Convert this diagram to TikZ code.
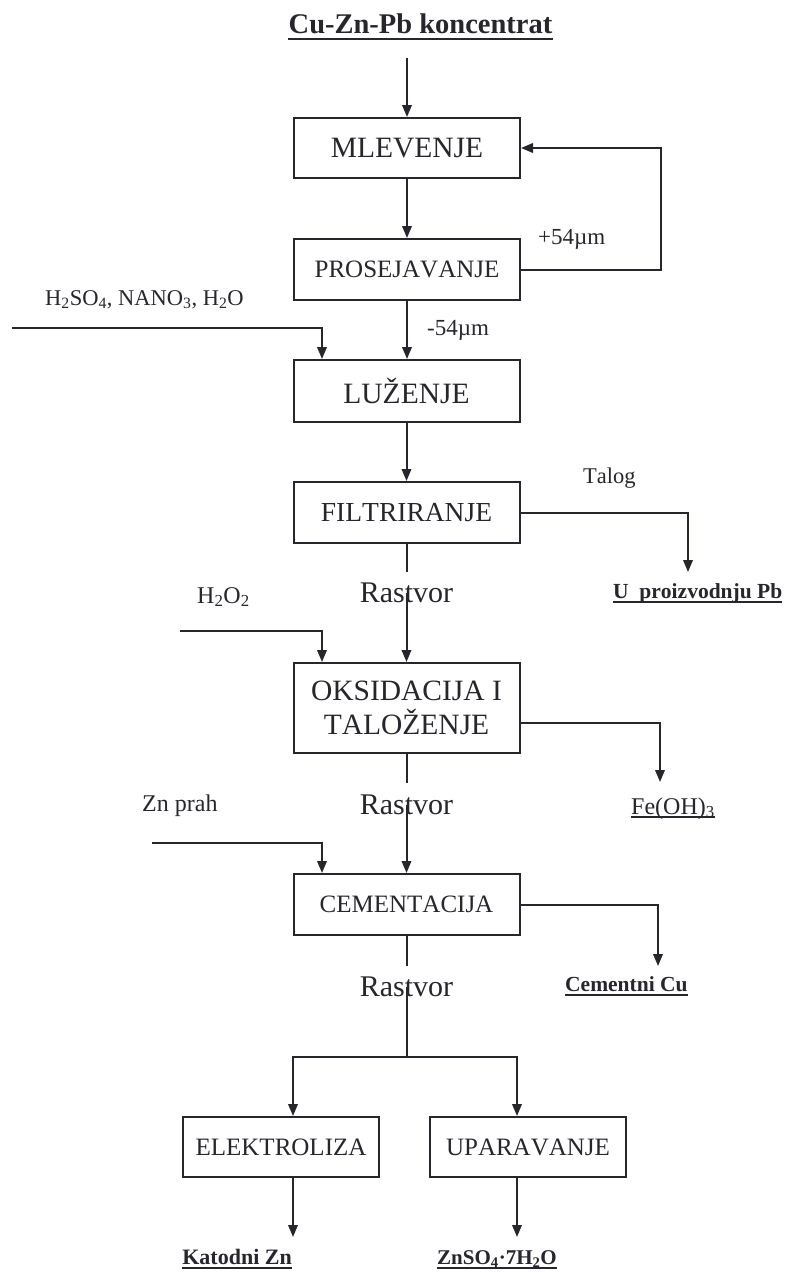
\documentclass[tikz,border=0pt]{standalone}
\usepackage{fontspec}
\setmainfont{Liberation Serif}[Kerning=Off]
\usetikzlibrary{arrows.meta}
\definecolor{ink}{RGB}{38,38,44}
\newcommand\fz[1]{\fontsize{#1}{#1}\selectfont}
\begin{document}
\begin{tikzpicture}[x=1pt,y=-1pt,
  every node/.style={text=ink, inner sep=0pt},
  procbox/.style={draw=ink, line width=2pt, align=center, fill=white},
  flow/.style={draw=ink, line width=2pt},
  arr/.style={flow, -{Triangle[length=12pt,width=9.5pt]}},
  uline/.style={draw=ink, line width=1.6pt},
  thinuline/.style={draw=ink, line width=1.2pt}
]
\useasboundingbox (0,0) rectangle (794,1272);
\fill[white] (0,0) rectangle (794,1272);

% process boxes
\node[procbox, minimum width=226pt, minimum height=60pt, font=\fz{29.5}] (mlev) at (407,148) {MLEVENJE};
\node[procbox, minimum width=226pt, minimum height=61pt, font=\fz{25}] (pros) at (407,269.5) {PROSEJAVANJE};
\node[procbox, minimum width=226pt, minimum height=62pt, font=\fz{29.5}] (luz) at (406.5,391) {LUŽENJE};
\node[procbox, minimum width=226pt, minimum height=61pt, font=\fz{27.5}] (filt) at (406.5,512.5) {FILTRIRANJE};
\node[procbox, minimum width=226pt, minimum height=90pt, font=\fontsize{29.5}{34}\selectfont] (oks) at (406.5,708) {OKSIDACIJA I\\TALOŽENJE};
\node[procbox, minimum width=226pt, minimum height=61pt, font=\fz{25}] (cem) at (406.5,904.5) {CEMENTACIJA};
\node[procbox, minimum width=196pt, minimum height=60pt, font=\fz{25}] (elek) at (281,1147) {ELEKTROLIZA};
\node[procbox, minimum width=196pt, minimum height=60pt, font=\fz{25}] (upar) at (528,1147) {UPARAVANJE};

% title
\node[font=\bfseries\fz{28.5}, anchor=base] (title) at (420.5,33) {Cu-Zn-Pb koncentrat};
\draw[uline] ([yshift=-6pt]title.base west) -- ([yshift=-6pt]title.base east);
\coordinate (c0) at (407,58);
\draw[arr] (c0) -- (mlev.north);

% grinding / screening loop
\draw[arr] (mlev.south) -- (pros.north);
\draw[arr] (pros.east) -- ++(140,0) |- (mlev.east);
\node[font=\fz{23}, anchor=base west] (plus) at (538,244) {+54µm};
\draw[arr] (pros.south) -- (pros.south |- luz.north);
\node[font=\fz{23}, anchor=base west] (minus) at (427,335) {-54µm};

% leaching reagents
\node[font=\fz{22.5}, anchor=base west] (reag) at (45,305) {H\textsubscript{2}SO\textsubscript{4}, NANO\textsubscript{3}, H\textsubscript{2}O};
\coordinate (r1) at (12,328);
\draw[arr] (r1) -| ([xshift=-84.5pt]luz.north);

\draw[arr] (luz.south) -- (filt.north);

% filtration residue
\node[font=\fz{22.5}, anchor=base west] (talog) at (583,483) {Talog};
\coordinate (pbtip) at (688,572);
\draw[arr] (filt.east) -| (pbtip);
\node[font=\bfseries\fz{21.5}, anchor=base west] (pb) at (613,598) {U\ \ proizvodnju Pb};
\draw[uline] ([yshift=-4pt]pb.base west) -- ([yshift=-4pt]pb.base east);

% solution 1
\node[font=\fz{30}] (ras1) at (406.5,593) {Rastvor};
\draw[flow] (filt.south) -- ([yshift=11pt]ras1.north);
\draw[arr] (ras1.center) -- (oks.north);
\node[font=\fz{24}, anchor=base west] (h2o2) at (197,603) {H\textsubscript{2}O\textsubscript{2}};
\coordinate (r2) at (180,631);
\draw[arr] (r2) -| ([xshift=-84.5pt]oks.north);

% Fe(OH)3
\coordinate (fetip) at (660,782);
\draw[arr] ([yshift=-15pt]oks.east) -| (fetip);
\node[font=\fz{24}, anchor=base west] (fe) at (631,814) {Fe(OH)\textsubscript{3}};
\draw[thinuline] ([yshift=-3pt]fe.base west) -- ([yshift=-3pt]fe.base east);

% solution 2
\node[font=\fz{30}] (ras2) at (406.5,805) {Rastvor};
\draw[flow] (oks.south) -- ([yshift=12pt]ras2.north);
\draw[arr] (ras2.center) -- (cem.north);
\node[font=\fz{24}, anchor=base west] (znp) at (142,811) {Zn prah};
\coordinate (r3) at (152,843);
\draw[arr] (r3) -| ([xshift=-84.5pt]cem.north);

% cement copper
\coordinate (cutip) at (658,966);
\draw[arr] (cem.east) -| (cutip);
\node[font=\bfseries\fz{21.5}, anchor=base west] (cu) at (565,991) {Cementni Cu};
\draw[uline] ([yshift=-4pt]cu.base west) -- ([yshift=-4pt]cu.base east);

% solution 3 and split
\node[font=\fz{30}] (ras3) at (406.5,987) {Rastvor};
\draw[flow] (cem.south) -- ([yshift=11pt]ras3.north);
\coordinate (spl) at (406.5,1057);
\draw[flow] (ras3.center) -- (spl);
\draw[arr] (spl) -| ([xshift=12pt]elek.north);
\draw[arr] (spl) -| ([xshift=-11pt]upar.north);

% products
\coordinate (kztip) at (293,1237);
\draw[arr] ([xshift=12pt]elek.south) -- (kztip);
\coordinate (zntip) at (517,1237);
\draw[arr] ([xshift=-11pt]upar.south) -- (zntip);
\node[font=\bfseries\fz{22}, anchor=base east] (kz) at (292,1264) {Katodni Zn};
\draw[uline] ([yshift=-4pt]kz.base west) -- ([yshift=-4pt]kz.base east);
\node[font=\bfseries\fz{21}, anchor=base] (zns) at (497,1264) {ZnSO\textsubscript{4}·7H\textsubscript{2}O};
\draw[uline] ([yshift=-4pt]zns.base west) -- ([yshift=-4pt]zns.base east);
\end{tikzpicture}
\end{document}
